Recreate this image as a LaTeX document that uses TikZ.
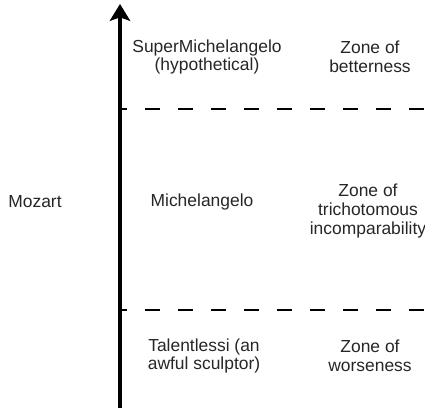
\documentclass[tikz,border=0pt]{standalone}
\usepackage{fontspec}
\setmainfont{Liberation Sans}
\usepackage{tikz}
\usetikzlibrary{arrows.meta}

\begin{document}
\begin{tikzpicture}[
        every node/.style={align=center, text=black!85, font=\fontsize{12.4}{13.2}\selectfont},
        zoneline/.style={line width=2pt, dash pattern=on 10.7pt off 12.8pt, dash phase=5.7pt},
        axisline/.style={line width=2.3pt, -{Stealth[length=12pt, width=14.5pt, inset=2.5pt]}}
    ]
        \useasboundingbox (0,0) rectangle (10.625,10.2);

        \coordinate (bottom) at (3,0);
        \coordinate (top) at (3,10.1);
        \coordinate (hi-l) at (3,7.475);
        \coordinate (hi-r) at (10.625,7.475);
        \coordinate (lo-l) at (3,2.45);
        \coordinate (lo-r) at (10.625,2.45);

        \draw (5.175,8.775) node (super) {SuperMichelangelo\\(hypothetical)};
        \draw (9.25,8.775) node (better) {Zone of\\betterness};
        \draw (0.875,5.15) node (mozart) {Mozart};
        \draw (5.05,5.15) node (michel) {Michelangelo};
        \draw (9.2,4.925) node (incomp) {Zone of\\trichotomous\\incomparability};
        \draw (5.1,1.3) node (talent) {Talentlessi (an\\awful sculptor)};
        \draw (9.25,1.3) node (worse) {Zone of\\worseness};

        \draw[zoneline] (hi-l) -- (hi-r);
        \draw[zoneline] (lo-l) -- (lo-r);
        \draw[axisline] (bottom) -- (top);
    \end{tikzpicture}
\end{document}
